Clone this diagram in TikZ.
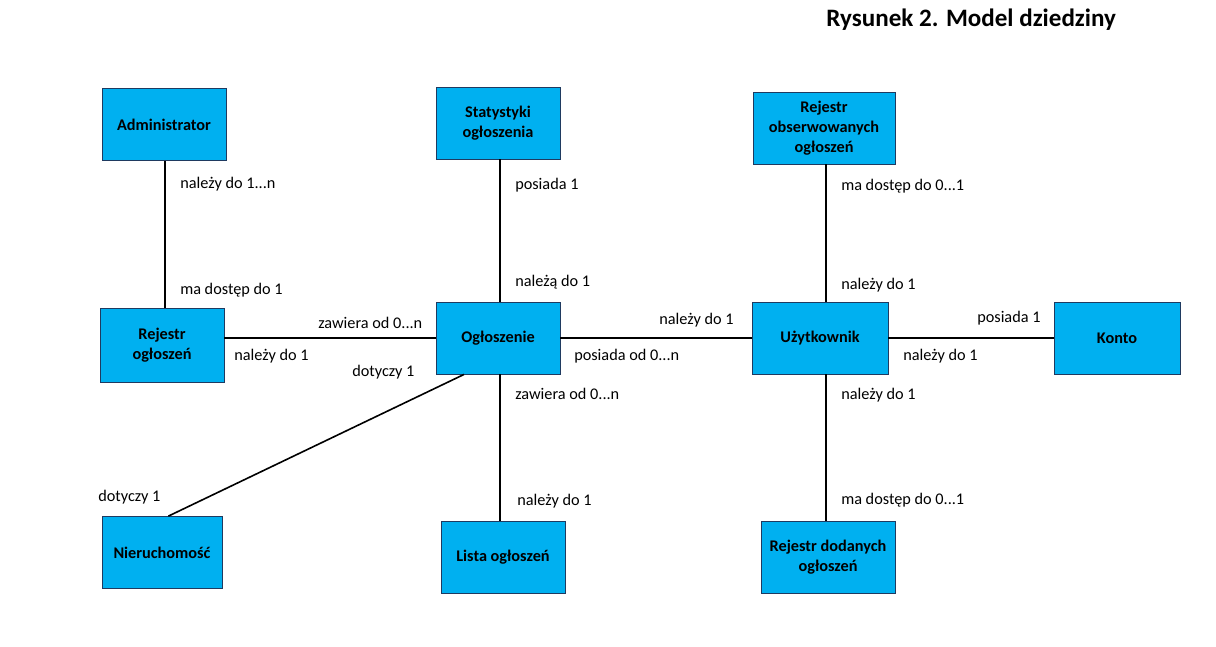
\documentclass[tikz,border=0pt]{standalone}
\usepackage{fontspec}
\setmainfont{Carlito}
\usepackage{tikz}

\definecolor{boxfill}{HTML}{00B0F0}
\definecolor{boxline}{HTML}{1F3A60}

\begin{document}
\begin{tikzpicture}[x=0.75pt, y=-0.75pt,
    encja/.style={draw=boxline, fill=boxfill, line width=0.6pt, align=center,
        font=\fontsize{12.2}{15}\selectfont\bfseries, minimum height=54pt, inner sep=1pt},
    rel/.style={line width=1.2pt, black},
    opis/.style={anchor=west, inner sep=0pt, font=\fontsize{12.2}{15}\selectfont}]
    \useasboundingbox (0,0) rectangle (1216,646);

    % tytul
    \node[anchor=west, inner sep=0pt, font=\fontsize{18.8}{22}\selectfont\bfseries] (tytul) at (826,20) {Rysunek 2. Model dziedziny};

    % encje
    \node[encja, minimum width=93pt] (admin) at (164,124.5) {Administrator};
    \node[encja, minimum width=93pt] (stat) at (498,123) {Statystyki\\ogłoszenia};
    \node[encja, minimum width=106.5pt] (rejobs) at (824,128) {Rejestr\\obserwowanych\\ogłoszeń};
    \node[encja, minimum width=93pt, minimum height=55.5pt] (rejog) at (162,345) {Rejestr\\ogłoszeń};
    \node[encja, minimum width=93pt] (ogl) at (498,338) {Ogłoszenie};
    \node[encja, minimum width=102pt] (uzyt) at (820,338) {Użytkownik};
    \node[encja, minimum width=94.5pt] (konto) at (1117,338.5) {Konto};
    \node[encja, minimum width=90pt] (nier) at (162,552.5) {Nieruchomość};
    \node[encja, minimum width=93pt] (lista) at (503,557.5) {Lista ogłoszeń};
    \node[encja, minimum width=100.5pt] (rejdod) at (828,557.5) {Rejestr dodanych\\ogłoszeń};

    % powiazania
    \draw[rel] ([xshift=0.75pt]admin.south) -- ([xshift=0.75pt]admin.south |- rejog.north);
    \draw[rel] ([xshift=1.5pt]stat.south) -- ([xshift=1.5pt]stat.south |- ogl.north);
    \draw[rel] ([xshift=1.5pt]rejobs.south) -- ([xshift=1.5pt]rejobs.south |- uzyt.north);
    \draw[rel] (rejog.east |- ogl) -- (ogl.west);
    \draw[rel] (ogl.east) -- (uzyt.west);
    \draw[rel] (uzyt.east) -- (konto.west |- uzyt);
    \draw[rel] ([xshift=1.5pt]ogl.south) -- ([xshift=1.5pt]ogl.south |- lista.north);
    \draw[rel] ([xshift=4.5pt]uzyt.south) -- ([xshift=4.5pt]uzyt.south |- rejdod.north);
    \draw[rel] (ogl.227.5) -- (nier.80.5);

    % liczebnosci
    \node[opis] (l1) at (180,184) {należy do 1...n};
    \node[opis] (l2) at (180,290) {ma dostęp do 1};
    \node[opis] (l3) at (318,323) {zawiera od 0...n};
    \node[opis] (l4) at (234,356) {należy do 1};
    \node[opis] (l5) at (352,372) {dotyczy 1};
    \node[opis] (l6) at (98,497) {dotyczy 1};
    \node[opis] (l7) at (515,185) {posiada 1};
    \node[opis] (l8) at (515,282) {należą do 1};
    \node[opis] (l9) at (659,320) {należy do 1};
    \node[opis] (l10) at (574,356) {posiada od 0...n};
    \node[opis] (l11) at (515,394) {zawiera od 0...n};
    \node[opis] (l12) at (517,501) {należy do 1};
    \node[opis] (l13) at (841,186) {ma dostęp do 0...1};
    \node[opis] (l14) at (841,285) {należy do 1};
    \node[opis] (l15) at (977,318) {posiada 1};
    \node[opis] (l16) at (903,356) {należy do 1};
    \node[opis] (l17) at (841,395) {należy do 1};
    \node[opis] (l18) at (841,500) {ma dostęp do 0...1};
\end{tikzpicture}
\end{document}
